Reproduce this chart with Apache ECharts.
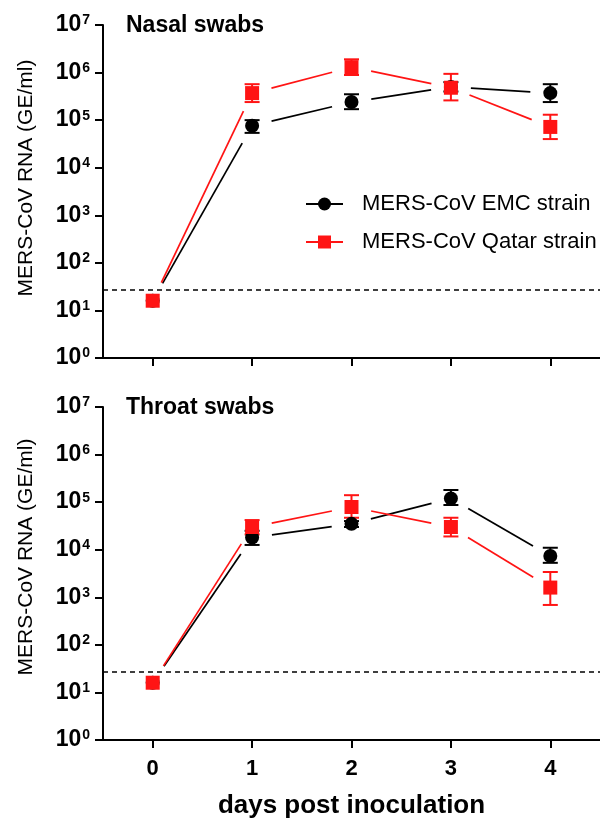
<!DOCTYPE html>
<html><head><meta charset="utf-8">
<script src="https://cdn.jsdelivr.net/npm/echarts@6/dist/echarts.min.js"></script>
<style>html,body{margin:0;padding:0;background:#fff}#c{width:600px;height:824px}</style>
</head><body><div id="c"></div>
<script>
// ---- data ----
const days = ['0', '1', '2', '3', '4'];
const seriesNames = ['MERS-CoV EMC strain', 'MERS-CoV Qatar strain'];
const panelTitles = ['Nasal swabs', 'Throat swabs'];
const yAxisName = 'MERS-CoV RNA (GE/ml)';
const xAxisName = 'days post inoculation';
const detectionLimit = 27.5;

const nasalEMC      = [16, 7.6e4, 2.4e5, 5.0e5, 3.7e5];
const nasalEMCLow   = [null, 5.4e4, 1.7e5, 4.0e5, 2.4e5];
const nasalEMCHigh  = [null, 1.0e5, 3.5e5, 6.3e5, 5.7e5];
const nasalQatar     = [16, 3.7e5, 1.3e6, 4.8e5, 7.2e4];
const nasalQatarLow  = [null, 2.4e5, 8.9e5, 2.6e5, 4.0e4];
const nasalQatarHigh = [null, 5.7e5, 1.9e6, 9.4e5, 1.3e5];

const throatEMC      = [16, 1.8e4, 3.5e4, 1.2e5, 7.4e3];
const throatEMCLow   = [null, 1.26e4, 3.0e4, 8.7e4, 5.3e3];
const throatEMCHigh  = [null, 2.5e4, 4.0e4, 1.8e5, 1.1e4];
const throatQatar     = [16, 3.0e4, 7.9e4, 3.0e4, 1.6e3];
const throatQatarLow  = [null, 2.1e4, 4.7e4, 1.9e4, 690];
const throatQatarHigh = [null, 4.2e4, 1.4e5, 4.7e4, 3.4e3];

// ---- styling ----
const FONT = '"Liberation Sans", Arial, Helvetica, sans-serif';
const BLACK = '#000000';
const RED = '#ff1414';
const GAP = 20;

function segItem(params, api) {
  const p0 = api.coord([api.value(0), api.value(1)]);
  const p1 = api.coord([api.value(2), api.value(3)]);
  const dx = p1[0] - p0[0], dy = p1[1] - p0[1];
  const d = Math.hypot(dx, dy);
  const g = GAP / d;
  return {
    type: 'line',
    shape: { x1: p0[0] + dx * g, y1: p0[1] + dy * g, x2: p1[0] - dx * g, y2: p1[1] - dy * g },
    style: { stroke: api.visual('color'), lineWidth: 1.7 }
  };
}
function errItem(params, api) {
  const x = api.value(0);
  const lo = api.coord([x, api.value(1)]);
  const hi = api.coord([x, api.value(2)]);
  const w = 7.5;
  const c = api.visual('color');
  const st = { stroke: c, lineWidth: 2 };
  return {
    type: 'group', children: [
      { type: 'line', shape: { x1: lo[0], y1: lo[1], x2: hi[0], y2: hi[1] }, style: st },
      { type: 'line', shape: { x1: hi[0] - w, y1: hi[1], x2: hi[0] + w, y2: hi[1] }, style: st },
      { type: 'line', shape: { x1: lo[0] - w, y1: lo[1], x2: lo[0] + w, y2: lo[1] }, style: st }
    ]
  };
}

function strainSeries(gi, name, vals, lo, hi, color, symbol, withLOD) {
  const segs = [];
  for (let i = 0; i < vals.length - 1; i++) segs.push([i, vals[i], i + 1, vals[i + 1]]);
  const errs = [];
  for (let i = 0; i < vals.length; i++) if (lo[i] != null) errs.push([i, lo[i], hi[i]]);
  const pts = vals.map((v, i) => [i, v]);
  const out = [
    { type: 'custom', name: name, xAxisIndex: gi, yAxisIndex: gi, renderItem: segItem,
      itemStyle: { color: color }, encode: { x: [0, 2], y: [1, 3] }, data: segs, silent: true, clip: false },
    { type: 'custom', name: name, xAxisIndex: gi, yAxisIndex: gi, renderItem: errItem,
      itemStyle: { color: color }, encode: { x: 0, y: [1, 2] }, data: errs, silent: true },
    { type: 'scatter', name: name, xAxisIndex: gi, yAxisIndex: gi, symbol: symbol, symbolSize: 14,
      itemStyle: { color: color, opacity: 1 }, data: pts, silent: true }
  ];
  if (withLOD) {
    out[2].markLine = {
      silent: true, symbol: 'none', label: { show: false },
      lineStyle: { color: '#000', type: [5, 4], width: 1.5 },
      data: [{ yAxis: detectionLimit }]
    };
  }
  return out;
}

const grids = [
  { left: 103, top: 25, width: 500, height: 333 },
  { left: 103, top: 407, width: 500, height: 333 }
];

function yAx(gi) {
  return {
    type: 'log', logBase: 10, gridIndex: gi, min: 1, max: 1e7, interval: 1,
    axisLine: { show: true, lineStyle: { color: '#000', width: 2 } },
    axisTick: { show: true, length: 8, lineStyle: { color: '#000', width: 2 } },
    splitLine: { show: false },
    axisLabel: {
      margin: 13,
      formatter: function (v) { const e = Math.round(Math.log10(v)); return '{b|10}{s|' + e + '}'; },
      rich: {
        b: { fontFamily: FONT, fontSize: 23, fontWeight: 'bold', color: '#000' },
        s: { fontFamily: FONT, fontSize: 14, fontWeight: 'bold', color: '#000', verticalAlign: 'top', padding: [0, 0, 0, 1] }
      }
    }
  };
}
function xAx(gi, showLabels) {
  const a = {
    type: 'category', gridIndex: gi, data: days, boundaryGap: true,
    axisLine: { show: true, lineStyle: { color: '#000', width: 2 } },
    axisTick: { show: true, alignWithLabel: true, length: 8, lineStyle: { color: '#000', width: 2 } },
    axisLabel: { show: showLabels, margin: 18, fontFamily: FONT, fontSize: 22, fontWeight: 'bold', color: '#000' },
    splitLine: { show: false }
  };
  if (showLabels) {
    a.name = xAxisName; a.nameLocation = 'middle'; a.nameGap = 53;
    a.nameTextStyle = { fontFamily: FONT, fontSize: 26, fontWeight: 'bold', color: '#000' };
  }
  return a;
}

const series = [].concat(
  strainSeries(0, seriesNames[0], nasalEMC, nasalEMCLow, nasalEMCHigh, BLACK, 'circle', true),
  strainSeries(0, seriesNames[1], nasalQatar, nasalQatarLow, nasalQatarHigh, RED, 'rect', false),
  strainSeries(1, seriesNames[0], throatEMC, throatEMCLow, throatEMCHigh, BLACK, 'circle', true),
  strainSeries(1, seriesNames[1], throatQatar, throatQatarLow, throatQatarHigh, RED, 'rect', false)
);

const legendY = [204, 242];
const graphic = [
  { type: 'text', left: 126, top: 14, style: { text: panelTitles[0], font: 'bold 23px ' + FONT, fill: '#000' } },
  { type: 'text', left: 126, top: 396, style: { text: panelTitles[1], font: 'bold 23px ' + FONT, fill: '#000' } },
  { type: 'text', x: 26, y: 178, rotation: Math.PI / 2, style: { text: yAxisName, font: '21px ' + FONT, fill: '#000', align: 'center', verticalAlign: 'middle' } },
  { type: 'text', x: 26, y: 557, rotation: Math.PI / 2, style: { text: yAxisName, font: '21px ' + FONT, fill: '#000', align: 'center', verticalAlign: 'middle' } },
  { type: 'line', shape: { x1: 306, y1: legendY[0], x2: 343, y2: legendY[0] }, style: { stroke: BLACK, lineWidth: 2 } },
  { type: 'circle', shape: { cx: 324.5, cy: legendY[0], r: 6.5 }, style: { fill: BLACK } },
  { type: 'text', x: 362, y: legendY[0], style: { text: seriesNames[0], font: '22px ' + FONT, fill: '#000', verticalAlign: 'middle' } },
  { type: 'line', shape: { x1: 306, y1: legendY[1], x2: 343, y2: legendY[1] }, style: { stroke: RED, lineWidth: 2 } },
  { type: 'rect', shape: { x: 318, y: legendY[1] - 6.5, width: 13, height: 13 }, style: { fill: RED } },
  { type: 'text', x: 362, y: legendY[1], style: { text: seriesNames[1], font: '22px ' + FONT, fill: '#000', verticalAlign: 'middle' } }
];

const chart = echarts.init(document.getElementById('c'), null, { renderer: 'canvas' });
chart.setOption({
  animation: false,
  backgroundColor: '#fff',
  grid: grids,
  xAxis: [xAx(0, false), xAx(1, true)],
  yAxis: [yAx(0), yAx(1)],
  series: series,
  graphic: graphic
});
</script></body></html>
